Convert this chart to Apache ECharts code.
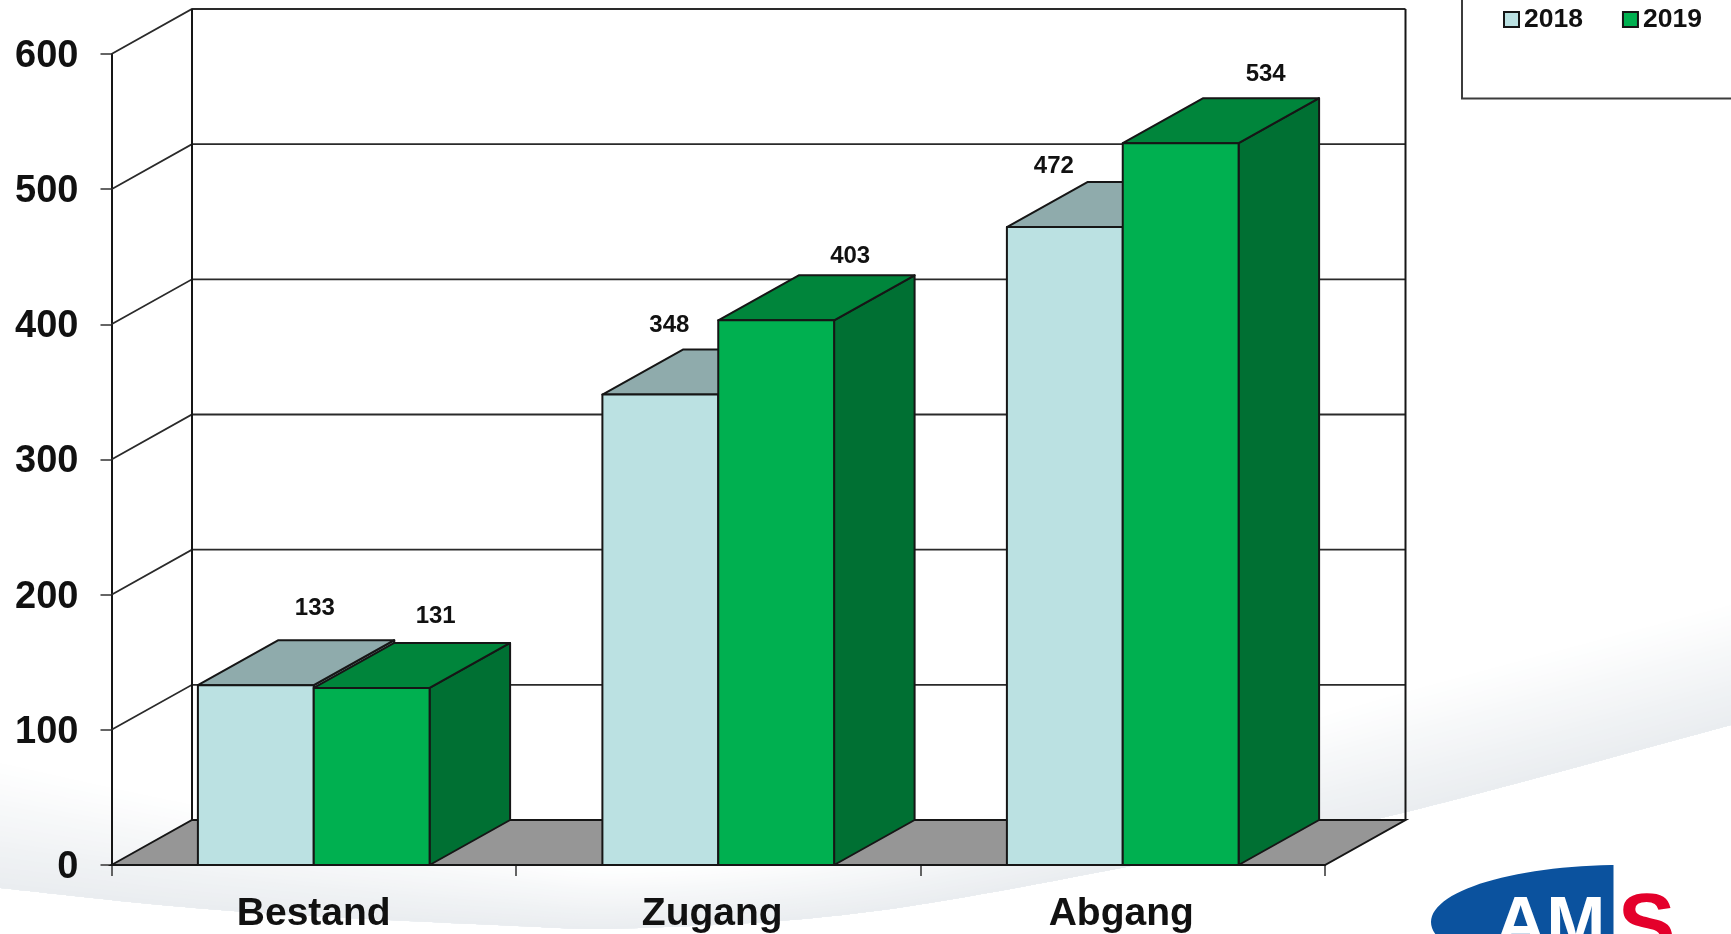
<!DOCTYPE html>
<html>
<head>
<meta charset="utf-8">
<script src="https://cdn.jsdelivr.net/npm/echarts@6/dist/echarts.min.js"></script>
<style>html,body{margin:0;padding:0;background:#fff}#c{width:1731px;height:934px}</style>
</head>
<body>
<div id="c"></div>
<script>
var categories = ['Bestand', 'Zugang', 'Abgang'];
var values2018 = [133, 348, 472];
var values2019 = [131, 403, 534];
var yTicks = [100, 200, 300, 400, 500, 600];
var labelOffsets2018 = [[59, -76.5], [9, -69.5], [-11, -61]];
var labelOffsets2019 = [[64, -71.5], [74, -64], [85, -69]];

var FONT = '"Liberation Sans", Arial, sans-serif';
var DX = 80.5, DY = 45, BAR = 0.2864, INK = '#161616';
var C18 = {front: '#BBE1E2', top: '#8FABAC', side: '#7d9798'};
var C19 = {front: '#00B050', top: '#00853B', side: '#007033'};

function bar3d(colors, slot, offsets) {
  return function (params, api) {
    var v = api.value(1), p = api.coord([api.value(0), v]), y0 = api.coord([api.value(0), 0])[1];
    var w = api.size([1, 0])[0] * BAR;
    var x0 = p[0] + slot * w, x1 = x0 + w, y = p[1];
    var line = {stroke: INK, lineWidth: 2, lineJoin: 'round'};
    var off = offsets[params.dataIndex];
    return {type: 'group', children: [
      {type: 'polygon', shape: {points: [[x1, y], [x1 + DX, y - DY], [x1 + DX, y0 - DY], [x1, y0]]}, style: Object.assign({fill: colors.side}, line)},
      {type: 'polygon', shape: {points: [[x0, y], [x0 + DX, y - DY], [x1 + DX, y - DY], [x1, y]]}, style: Object.assign({fill: colors.top}, line)},
      {type: 'rect', shape: {x: x0, y: y, width: w, height: y0 - y}, style: Object.assign({fill: colors.front}, line)},
      {type: 'text', x: (x0 + x1) / 2 + off[0], y: y + off[1], style: {text: String(v), font: 'bold 24px ' + FONT, fill: '#111', textAlign: 'center', textVerticalAlign: 'middle'}}
    ]};
  };
}

function wallLine(params, api) {
  var cs = params.coordSys, y = api.coord([0, api.value(0)])[1];
  return {type: 'polyline', shape: {points: [[cs.x, y], [cs.x + DX, y - DY], [cs.x + cs.width + DX, y - DY]]},
    style: {fill: 'none', stroke: '#2a2a2a', lineWidth: 1.8}};
}
function floorWalls(params, api) {
  var cs = params.coordSys, y0 = api.coord([0, 0])[1], yt = api.coord([0, 600])[1];
  var l = cs.x, r = cs.x + cs.width;
  var s = {stroke: INK, lineWidth: 2, fill: 'none'};
  return {type: 'group', children: [
    {type: 'polygon', shape: {points: [[l, y0], [l + DX, y0 - DY], [r + DX, y0 - DY], [r, y0]]}, style: {fill: '#969696', stroke: INK, lineWidth: 2}},
    {type: 'line', shape: {x1: l + DX, y1: yt - DY, x2: l + DX, y2: y0 - DY}, style: s},
    {type: 'line', shape: {x1: r + DX, y1: yt - DY, x2: r + DX, y2: y0 - DY}, style: s}
  ]};
}

// Background swoosh (decoration)
function dense(pts) {
  var out = [];
  for (var i = 0; i < pts.length - 1; i++) {
    var p0 = pts[Math.max(i - 1, 0)], p1 = pts[i], p2 = pts[i + 1], p3 = pts[Math.min(i + 2, pts.length - 1)];
    for (var t = 0; t < 1; t += 0.05) {
      var q = [];
      for (var k = 0; k < 3; k++) {
        q[k] = 0.5 * (2 * p1[k] + (p2[k] - p0[k]) * t + (2 * p0[k] - 5 * p1[k] + 4 * p2[k] - p3[k]) * t * t + (3 * p1[k] - p0[k] - 3 * p2[k] + p3[k]) * t * t * t);
      }
      out.push(q);
    }
  }
  out.push(pts[pts.length - 1]);
  return out;
}
var edge = dense([[0, 888, 125], [220, 910, 100], [497, 925, 70], [640, 928, 60], [883, 910, 70], [1214, 850, 100], [1402, 813, 120], [1731, 725, 120]]);
var graphics = [];
var LAYERS = 24;
for (var n = LAYERS; n >= 1; n--) {
  var f = n / LAYERS, pts = [], m = 1 - f + 1 / LAYERS;
  edge.forEach(function (e) { pts.push([e[0], e[1]]); });
  for (var j = edge.length - 1; j >= 0; j--) pts.push([edge[j][0], edge[j][1] - edge[j][2] * f]);
  var col = 'rgb(' + Math.round(255 - 21 * m) + ',' + Math.round(255 - 18 * m) + ',' + Math.round(255 - 15 * m) + ')';
  graphics.push({type: 'polygon', z: -10, silent: true, shape: {points: pts}, style: {fill: col, stroke: 'none'}});
}
// Legend frame
graphics.push({type: 'polyline', z: 5, silent: true, shape: {points: [[1462, 0], [1462, 98.5], [1731, 98.5]]}, style: {fill: 'none', stroke: '#3c3c3c', lineWidth: 2}});
// Logo
var ell = [];
for (var a = 90; a <= 270; a += 3) {
  var px = 1621 + 190 * Math.cos(a * Math.PI / 180), py = 922 - 57 * Math.sin(a * Math.PI / 180);
  ell.push([Math.min(px, 1613.5), py]);
}
graphics.push({type: 'polygon', z: 6, silent: true, shape: {points: ell}, style: {fill: '#0B529E'}});
graphics.push({type: 'text', z: 7, silent: true, x: 1495, y: 962, style: {text: 'AM', font: 'bold 71px ' + FONT, fill: '#fff', textAlign: 'left', textVerticalAlign: 'bottom'}});
graphics.push({type: 'text', z: 7, silent: true, x: 1618, y: 972, style: {text: 'S', font: 'bold 86px ' + FONT, fill: '#E4002B', textAlign: 'left', textVerticalAlign: 'bottom'}});

var chart = echarts.init(document.getElementById('c'), null, {renderer: 'canvas'});
chart.setOption({
  animation: false,
  backgroundColor: '#fff',
  graphic: graphics,
  grid: {left: 111.5, width: 1213.5, top: 54, height: 813, containLabel: false},
  legend: {
    data: ['2018', '2019'], left: 1503, top: 6, padding: 0, itemWidth: 15, itemHeight: 15, itemGap: 39,
    icon: 'rect', selectedMode: false,
    textStyle: {fontSize: 26.5, fontWeight: 'bold', fontFamily: FONT, color: '#111'}
  },
  xAxis: {
    type: 'category',
    data: categories.map(function (c, i) {
      return {value: c, textStyle: {padding: [0, [0, 12, 3][i], 0, 0]}};
    }),
    axisLine: {show: true, lineStyle: {color: INK, width: 2}},
    axisTick: {show: true, alignWithLabel: false, length: 11, lineStyle: {color: '#333', width: 1.5}},
    axisLabel: {fontSize: 39, fontWeight: 'bold', fontFamily: FONT, color: '#111', margin: 30},
    splitLine: {show: false}
  },
  yAxis: {
    type: 'value', min: 0, max: 600, interval: 100,
    axisLine: {show: true, lineStyle: {color: INK, width: 2}},
    axisTick: {show: true, length: 11, lineStyle: {color: '#333', width: 1.5}},
    axisLabel: {fontSize: 38, fontWeight: 'bold', fontFamily: FONT, color: '#111', margin: 33, verticalAlign: 'top', lineHeight: 5},
    splitLine: {show: false}
  },
  series: [
    {type: 'custom', name: 'walls', z: 2, silent: true, coordinateSystem: 'cartesian2d', data: yTicks.map(function (t) { return [t]; }), encode: {x: -1, y: 0}, renderItem: wallLine},
    {type: 'custom', name: 'floor', z: 2, silent: true, coordinateSystem: 'cartesian2d', data: [[0]], encode: {x: -1, y: 0}, renderItem: floorWalls},
    {type: 'custom', name: '2018', z: 3, silent: true, coordinateSystem: 'cartesian2d', itemStyle: {color: C18.front, borderColor: INK, borderWidth: 2},
      data: values2018.map(function (v, i) { return [i, v]; }), encode: {x: 0, y: 1}, renderItem: bar3d(C18, -1, labelOffsets2018)},
    {type: 'custom', name: '2019', z: 4, silent: true, coordinateSystem: 'cartesian2d', itemStyle: {color: C19.front, borderColor: INK, borderWidth: 2},
      data: values2019.map(function (v, i) { return [i, v]; }), encode: {x: 0, y: 1}, renderItem: bar3d(C19, 0, labelOffsets2019)}
  ]
});
</script>
</body>
</html>
